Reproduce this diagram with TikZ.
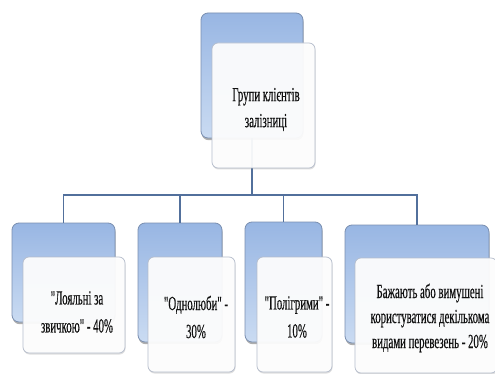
\documentclass[tikz,border=0pt]{standalone}
\usepackage{fontspec}
\setmainfont{Liberation Serif}[Ligatures=TeXOff, FakeBold=0.6]
\usetikzlibrary{shadows,calc}
\definecolor{bluetop}{HTML}{98B6E3}
\definecolor{bluebot}{HTML}{CADBF2}
\definecolor{blueedge}{HTML}{7A8FB0}
\definecolor{whiteedge}{HTML}{B4BCCB}
\definecolor{connc}{HTML}{52709C}
\definecolor{txt}{HTML}{111111}
\newcommand{\sq}[1]{\scalebox{0.54}[1]{#1}}
\tikzset{
  bluebox/.style={rectangle, rounded corners=7pt, draw=blueedge, line width=0.8pt,
    top color=bluetop, bottom color=bluebot, inner sep=0pt,
    drop shadow={shadow xshift=0.6pt, shadow yshift=-2.2pt, opacity=0.45, fill=black!70}},
  whitebox/.style={rectangle, rounded corners=6pt, draw=whiteedge, line width=0.7pt,
    fill=white, fill opacity=0.93, draw opacity=1, inner sep=0pt,
    drop shadow={shadow xshift=0.5pt, shadow yshift=-1.5pt, opacity=0.25, fill=black!50}},
  label/.style={align=center, text=txt, inner sep=0pt, font=\fontsize{20}{28}\selectfont},
  conn/.style={draw=connc, line width=1.4pt}
}
\begin{document}
\begin{tikzpicture}[x=1pt,y=-1pt]
\useasboundingbox (0,0) rectangle (495,374);
\fill[white] (0,0) rectangle (495,374);
\clip (0,0) rectangle (495,374);
% blue boxes
\coordinate (bar) at (0,195);
\node[bluebox, minimum width=102pt, minimum height=125pt] (pb) at (252,75.5) {};
\node[bluebox, minimum width=103pt, minimum height=99pt] (b1) at (63.5,272.5) {};
\node[bluebox, minimum width=84pt, minimum height=119pt] (b2) at (180,282.5) {};
\node[bluebox, minimum width=77pt, minimum height=120pt] (b3) at (283.5,282) {};
\node[bluebox, minimum width=144pt, minimum height=118pt] (b4) at (417,284) {};
% connectors
\draw[conn] (pb.south) -- (pb.south |- bar) -| (b1.north);
\draw[conn] (pb.south |- bar) -| (b2.north);
\draw[conn] (pb.south |- bar) -| (b3.north);
\draw[conn] (pb.south |- bar) -| (b4.north);
% white boxes
\node[whitebox, minimum width=103pt, minimum height=125pt] (pw) at (263.5,105.5) {};
\node[whitebox, minimum width=102pt, minimum height=96pt] (w1) at (74,305) {};
\node[whitebox, minimum width=87pt, minimum height=115pt] (w2) at (191.5,314.5) {};
\node[whitebox, minimum width=75pt, minimum height=115pt] (w3) at (294.5,314.5) {};
\node[whitebox, minimum width=142pt, minimum height=115pt] (w4) at (426,315.5) {};
% texts
\node[label, font=\fontsize{20}{26}\selectfont] (tp) at (266,109.5) {\sq{Групи клієнтів}\\\sq{залізниці}};
\node[label] (t1) at (77,312) {\sq{"Лояльні за}\\\sq{звичкою" - 40\%}};
\node[label] (t2) at (196,317) {\sq{"Однолюби" -}\\\sq{30\%}};
\node[label] (t3) at (297,317) {\sq{"Полігрими" -}\\\sq{10\%}};
\node[label, font=\fontsize{20}{25}\selectfont] (t4) at (430,318) {\sq{Бажають або вимушені}\\\sq{користуватися декількома}\\\sq{видами перевезень - 20\%}};
\end{tikzpicture}
\end{document}
